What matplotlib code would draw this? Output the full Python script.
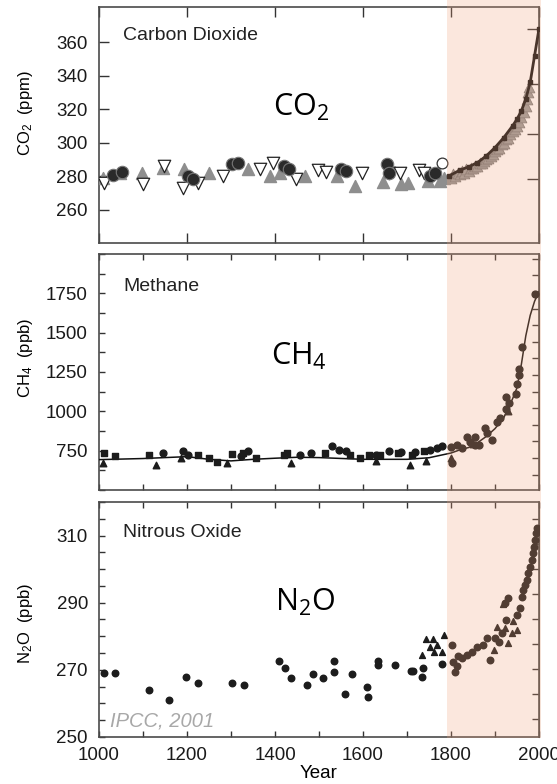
import numpy as np
import matplotlib
matplotlib.use('Agg')
import matplotlib.pyplot as plt
from matplotlib.patches import Rectangle
from matplotlib.ticker import MultipleLocator, NullFormatter

plt.rcParams['font.family'] = ['Liberation Sans', 'DejaVu Sans']
plt.rcParams['mathtext.default'] = 'regular'

# ---------------- CO2 (ppm) ----------------
co2_open_yr = [1012, 1101, 1147, 1190, 1226, 1281, 1365, 1396, 1448, 1497, 1517, 1598, 1659, 1683, 1727, 1739]
co2_open_val = [276, 275, 286, 273, 276, 280, 284, 288, 278, 283.6, 282.6, 282, 282, 282, 283.6, 282]
co2_grey_yr = [1008, 1048, 1097, 1145, 1194, 1251, 1339, 1388, 1412, 1469, 1541, 1582, 1646, 1687, 1703, 1747, 1776, 1784]
co2_grey_val = [279, 282, 282, 285, 284, 282, 284, 280, 282, 280, 280, 274, 276.4, 275, 276, 277, 277, 279]
co2_dot_yr = [1032, 1053, 1202, 1214, 1303, 1315, 1420, 1432, 1549, 1562, 1655, 1659, 1752, 1764]
co2_dot_val = [280.4, 282.4, 280, 278, 287, 288, 286, 284, 284, 283, 287, 282, 280, 282]
co2_ring_yr = [1780]
co2_ring_val = [288]
co2_band_yr = [1800, 1805, 1810, 1815, 1820, 1825, 1830, 1835, 1840, 1845, 1850, 1855, 1860, 1865,
               1870, 1875, 1880, 1885, 1890, 1895, 1900, 1905, 1910, 1915, 1920, 1925, 1930, 1935,
               1940, 1945, 1950, 1955, 1960, 1965, 1970, 1973, 1976, 1978]
co2_band_val = [279, 281, 280, 282, 281, 283, 282, 284, 283, 285, 285, 286, 286, 288,
                288, 289, 290, 291, 292, 293, 295, 296, 297, 299, 300, 302, 303, 305,
                307, 308, 310, 312, 315, 318, 322, 326, 330, 333]
co2_line_yr = [1795, 1820, 1840, 1860, 1880, 1900, 1920, 1940, 1950, 1960, 1970, 1980, 1990, 2000]
co2_line_val = [280, 283.5, 285.5, 288, 292, 297, 303, 310, 314, 319, 326, 336, 352, 368]

# ---------------- CH4 (ppb) ----------------
ch4_sq_yr = [1012, 1036, 1113, 1226, 1251, 1268, 1303, 1327, 1356, 1420, 1428, 1513, 1570, 1594, 1614, 1638, 1679, 1711, 1739]
ch4_sq_val = [735, 714, 725, 720, 704, 678, 729, 735, 704, 725, 735, 735, 720, 704, 725, 720, 735, 725, 750]
ch4_dot_yr = [1145, 1190, 1202, 1323, 1339, 1457, 1481, 1529, 1546, 1562, 1630, 1659, 1687, 1719, 1752, 1768, 1780,
              1800, 1802, 1813, 1825, 1836, 1844, 1855, 1855, 1863, 1878, 1882, 1893, 1905, 1912, 1924, 1924,
              1932, 1947, 1951, 1955, 1955, 1962, 1992]
ch4_dot_val = [735, 746, 725, 714, 746, 720, 735, 777, 756, 746, 720, 746, 742, 742, 756, 767, 777,
               775, 670, 786, 765, 838, 807, 838, 786, 786, 892, 860, 818, 934, 955, 1018, 1092,
               1050, 1113, 1176, 1229, 1271, 1408, 1746]
ch4_tri_yr = [1008, 1129, 1186, 1291, 1436, 1630, 1707, 1743, 1800, 1850, 1930]
ch4_tri_val = [672, 657, 704, 672, 672, 687, 662, 687, 702, 790, 1000]
ch4_line_yr = [1000, 1100, 1200, 1250, 1300, 1350, 1400, 1450, 1500, 1600, 1700, 1750, 1800,
               1820, 1840, 1860, 1880, 1900, 1920, 1940, 1950, 1960, 1970, 1980, 1990, 2000]
ch4_line_val = [693, 700, 712, 695, 685, 695, 702, 708, 706, 695, 695, 705, 735,
                755, 770, 800, 840, 890, 960, 1080, 1150, 1300, 1480, 1610, 1700, 1760]

# ---------------- N2O (ppb) ----------------
n2o_dot_yr = [1012, 1036, 1113, 1158, 1198, 1224, 1303, 1329, 1408, 1423, 1436, 1473, 1486, 1510, 1535, 1535,
              1559, 1575, 1610, 1612, 1633, 1633, 1672, 1709, 1713, 1733, 1737, 1780,
              1802, 1805, 1809, 1813, 1817, 1824, 1836, 1847, 1858, 1873, 1881, 1889, 1900, 1908, 1915,
              1923, 1925, 1930, 1949, 1957, 1961, 1964, 1968, 1972, 1976, 1980, 1984, 1986, 1989, 1991,
              1993, 1995]
n2o_dot_val = [269, 269, 264, 261, 268, 266, 266, 265.4, 272.6, 270.7, 267.5, 265.4, 268.8, 267.7, 272.7, 269.3,
               262.8, 268.9, 264.8, 262, 272.6, 271.5, 271.5, 269.7, 269.7, 268, 270.5, 271.8,
               277.4, 272.4, 269.5, 271, 274, 273.4, 274.4, 275.4, 276.9, 277.4, 279.4, 272.9, 279.4, 278.4, 280.9,
               289.8, 284.9, 291.3, 286.3, 288.3, 291.8, 293.8, 295.3, 296.8, 298.8, 300.7, 302.7, 304.7, 306.7, 308.7,
               310.7, 312.2]
n2o_tri_yr = [1733, 1744, 1752, 1760, 1761, 1768, 1780, 1785, 1898, 1904, 1918, 1923, 1930, 1938, 1942, 1950]
n2o_tri_val = [274.4, 279.3, 276.9, 279.3, 275.4, 277.4, 275.4, 280.5, 276, 282.9, 289.5, 282.4, 278, 280.9, 284.6, 282]

years_ticks = [1000, 1200, 1400, 1600, 1800, 2000]

W, H = 557, 784
fig = plt.figure(figsize=(W / 100, H / 100), dpi=100)


def panel(top, bottom):
    ax = fig.add_axes([99 / W, 1 - bottom / H, 440 / W, (bottom - top) / H])
    ax.set_facecolor('none')
    for s in ax.spines.values():
        s.set_color('#4a4a4a')
        s.set_linewidth(1.2)
    ax.set_xlim(1000, 2000)
    ax.set_xticks(years_ticks)
    ax.tick_params(direction='in', top=True, right=False, colors='#333333',
                   labelcolor='#1a1a1a', labelsize=13.5, width=1)
    ax.tick_params(axis='y', pad=8)
    return ax


ink = '#1c1c1c'

# ---- top panel ----
ax1 = panel(7, 243)
ax1.set_ylim(240, 381)
ax1.set_yticks([260, 280, 300, 320, 340, 360])
ax1.tick_params(length=7, labelbottom=False)
ax1.scatter(co2_band_yr, co2_band_val, marker='^', s=60, color='#9a9a9a', edgecolor='#7a7a7a', lw=0.6, zorder=3)
ax1.plot(co2_line_yr, co2_line_val, color='#111111', lw=2.0, zorder=4)
ax1.plot(co2_line_yr, co2_line_val, ls='none', marker='s', ms=3.5, color='#111111', zorder=4)
ax1.scatter(co2_grey_yr, co2_grey_val, marker='^', s=75, color='#8e8e8e', edgecolor='#8e8e8e', zorder=3)
ax1.scatter(co2_open_yr, co2_open_val, marker='v', s=80, color='white', edgecolor='#222222', lw=0.9, zorder=4)
ax1.scatter(co2_dot_yr, co2_dot_val, marker='o', s=80, color='#2a2a2a', edgecolor='#777777', lw=0.8, zorder=5)
ax1.scatter(co2_ring_yr, co2_ring_val, marker='o', s=60, color='white', edgecolor='#333333', lw=0.9, zorder=5)
sec1 = ax1.secondary_yaxis('right', functions=(lambda c: 5.35 * np.log(np.clip(c, 1, None) / 278),
                                               lambda r: 278 * np.exp(r / 5.35)))
sec1.set_yticks([0, 0.5, 1.0, 1.5])
sec1.yaxis.set_major_formatter(NullFormatter())
sec1.tick_params(direction='in', length=9, colors='#333333', width=1)
sec1.spines['right'].set_color('#4a4a4a')
ax1.set_ylabel('CO$_2$  (ppm)', fontsize=12)
ax1.yaxis.set_label_coords(-0.145, 0.55)
ax1.text(0.055, 0.86, 'Carbon Dioxide', transform=ax1.transAxes, fontsize=14, color='#222222')
ax1.text(1459, 321, 'CO$_2$', fontsize=22, family='Open Sans', ha='center', va='center')

# ---- middle panel ----
ax2 = panel(254, 490)
ax2.set_ylim(500, 2000)
ax2.set_yticks([750, 1000, 1250, 1500, 1750])
ax2.yaxis.set_minor_locator(MultipleLocator(125))
ax2.xaxis.set_minor_locator(MultipleLocator(100))
ax2.tick_params(which='both', length=4, labelbottom=False)
ax2.tick_params(which='minor', direction='in', top=True, colors='#333333', width=1)
ax2.plot(ch4_line_yr, ch4_line_val, color='#111111', lw=1.1, zorder=3)
ax2.scatter(ch4_sq_yr, ch4_sq_val, marker='s', s=22, color=ink, zorder=4)
ax2.scatter(ch4_dot_yr, ch4_dot_val, marker='o', s=24, color=ink, zorder=4)
ax2.scatter(ch4_tri_yr, ch4_tri_val, marker='^', s=22, color=ink, zorder=4)
sec2 = ax2.secondary_yaxis('right', functions=(lambda m: (m - 703) / 1055, lambda r: 703 + r * 1055))
sec2.yaxis.set_major_locator(MultipleLocator(0.1))
sec2.yaxis.set_major_formatter(NullFormatter())
sec2.tick_params(direction='in', length=5, colors='#333333', width=1)
sec2.spines['right'].set_color('#4a4a4a')
ax2.set_ylabel('CH$_4$  (ppb)', fontsize=12)
ax2.yaxis.set_label_coords(-0.145, 0.56)
ax2.text(0.055, 0.843, 'Methane', transform=ax2.transAxes, fontsize=14, color='#222222')
ax2.text(1455, 1351, 'CH$_4$', fontsize=22, family='Open Sans', ha='center', va='center')

# ---- bottom panel ----
ax3 = panel(502, 737)
ax3.set_ylim(250, 320)
ax3.set_yticks([250, 270, 290, 310])
ax3.yaxis.set_minor_locator(MultipleLocator(5))
ax3.xaxis.set_minor_locator(MultipleLocator(100))
ax3.tick_params(which='both', length=4)
ax3.tick_params(which='minor', direction='in', top=True, colors='#333333', width=1)
ax3.tick_params(axis='x', pad=7)
ax3.scatter(n2o_dot_yr, n2o_dot_val, marker='o', s=22, color=ink, zorder=4)
ax3.scatter(n2o_tri_yr, n2o_tri_val, marker='^', s=18, color=ink, zorder=4)
sec3 = ax3.secondary_yaxis('right', functions=(lambda n: (n - 270.3) / 74.5, lambda r: 270.3 + r * 74.5))
sec3.yaxis.set_major_locator(MultipleLocator(0.1))
sec3.yaxis.set_major_formatter(NullFormatter())
sec3.tick_params(direction='in', length=5, colors='#333333', width=1)
sec3.spines['right'].set_color('#4a4a4a')
ax3.set_ylabel('N$_2$O  (ppb)', fontsize=12)
ax3.yaxis.set_label_coords(-0.145, 0.485)
ax3.set_xlabel('Year', fontsize=13.5, labelpad=1)
ax3.text(0.055, 0.851, 'Nitrous Oxide', transform=ax3.transAxes, fontsize=14, color='#222222')
ax3.text(1468, 290, 'N$_2$O', fontsize=22, family='Open Sans', ha='center', va='center')
ax3.text(0.025, 0.043, 'IPCC, 2001', transform=ax3.transAxes, fontsize=14.5,
         style='italic', color='#a8a8a8')

# industrial-era shading, laid over the panels like a multiply tint
shade = Rectangle((447 / W, 1 - 738 / H), 94 / W, 738 / H, transform=fig.transFigure,
                  facecolor=(243 / 255, 162 / 255, 121 / 255), alpha=0.25, edgecolor='none', zorder=10)
fig.add_artist(shade)

fig.savefig('out.png', dpi=100)
